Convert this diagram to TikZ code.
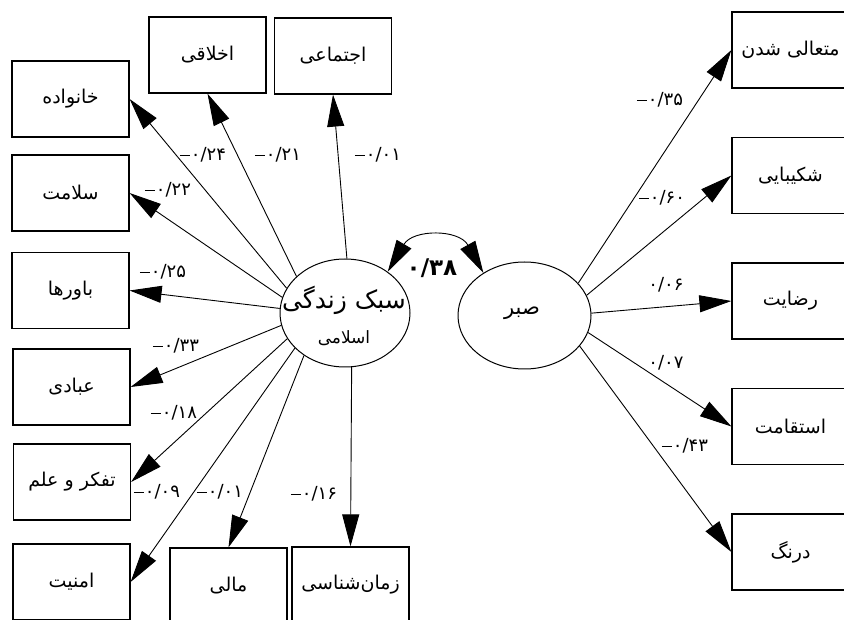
\documentclass[tikz,border=0pt]{standalone}
\usepackage{fontspec}
\usetikzlibrary{arrows.meta,shapes.geometric}
\TeXXeTstate=1
\newfontfamily\fa[Script=Arabic]{DejaVu Sans}
\newcommand\mns{\rule[4.5pt]{10pt}{0.9pt}\hspace{1pt}}
\begin{document}
\begin{tikzpicture}[x=1pt,y=-1pt,
  box/.style={draw, line width=1.2pt, minimum width=117pt, minimum height=76pt, inner sep=0pt, font=\fa\fontsize{19}{22}\selectfont},
  latent/.style={draw, ellipse, line width=1pt, inner sep=0pt},
  arr/.style={line width=0.9pt, -{Triangle[length=32pt,width=17pt]}},
  coef/.style={font=\fa\fontsize{18}{20}\selectfont, inner sep=0pt}]
\useasboundingbox (0,0) rectangle (844,620);
% latent variables
\node[latent, minimum width=130pt, minimum height=108pt] (L) at (345,313) {};
\node[font=\fa\fontsize{25}{28}\selectfont, inner sep=0pt] (Lt1) at (344,300) {\beginR سبک زندگی\endR};
\node[font=\fa\fontsize{17}{20}\selectfont, inner sep=0pt] (Lt2) at (344,338) {\beginR اسلامی\endR};
\node[latent, minimum width=133pt, minimum height=107pt] (R) at (524.5,315.5) {};
\node[font=\fa\fontsize{21}{24}\selectfont, inner sep=0pt] (Rt) at (522,313) {\beginR صبر\endR};
% left indicators
\node[box] (b1) at (70.5,99) {\beginR خانواده\endR};
\node[box] (b2) at (207.5,55) {\beginR اخلاقی\endR};
\node[box] (b3) at (333,56) {\beginR اجتماعی\endR};
\node[box] (b4) at (70.5,193) {\beginR سلامت\endR};
\node[box] (b5) at (70.5,290.5) {\beginR باورها\endR};
\node[box] (b6) at (71.5,387) {\beginR عبادی\endR};
\node[box] (b7) at (72,482) {\beginR تفکر و علم\endR};
\node[box] (b8) at (71.5,582) {\beginR امنیت\endR};
\node[box] (b9) at (228.5,586) {\beginR مالی\endR};
\node[box] (b10) at (350.5,585) {\beginR زمان‌شناسی\endR};
% right indicators
\node[box] (r1) at (790.5,50) {\beginR متعالی شدن\endR};
\node[box] (r2) at (790.5,175.5) {\beginR شکیبایی\endR};
\node[box] (r3) at (790.5,301) {\beginR رضایت\endR};
\node[box] (r4) at (790.5,426.5) {\beginR استقامت\endR};
\node[box] (r5) at (790.5,552) {\beginR درنگ\endR};
% paths from L
\draw[arr] (L.157) -- (b1.east);
\draw[arr] (L.143) -- (b2.south);
\draw[arr] (L.88) -- (b3.south);
\draw[arr] (L.166) -- (b4.east);
\draw[arr] (L.176) -- (b5.east);
\draw[arr] (L.191) -- (b6.east);
\draw[arr] (L.204) -- (b7.east);
\draw[arr] (L.215) -- (b8.east);
\draw[arr] (L.226) -- (b9.north);
\draw[arr] (L.277) -- (b10.north);
% paths from R
\draw[arr] (R.31) -- (r1.west);
\draw[arr] (R.18) -- (r2.west);
\draw[arr] (R.2) -- (r3.west);
\draw[arr] (R.345) -- (r4.west);
\draw[arr] (R.331) -- (r5.west);
% covariance
\draw[line width=0.9pt, {Triangle[length=32pt,width=17pt]}-{Triangle[length=32pt,width=17pt]}]
  (L.44) .. controls (413,229) and (459,229) .. (R.134);
\node[font=\fa\bfseries\fontsize{23}{26}\selectfont, inner sep=0pt] (c0) at (432,268) {۰/۳۸};
% coefficients
\node[coef] (c1) at (203,155) {\mns۰/۲۴};
\node[coef] (c2) at (278,155) {\mns۰/۲۱};
\node[coef] (c3) at (378,155) {\mns۰/۰۱};
\node[coef] (c4) at (168,190) {\mns۰/۲۲};
\node[coef] (c5) at (163,272) {\mns۰/۲۵};
\node[coef] (c6) at (176,346) {\mns۰/۳۳};
\node[coef] (c7) at (174,413) {\mns۰/۱۸};
\node[coef] (c8) at (157,492) {\mns۰/۰۹};
\node[coef] (c9) at (220,492) {\mns۰/۰۱};
\node[coef] (c10) at (314,494) {\mns۰/۱۶};
\node[coef] (c11) at (660,100) {\mns۰/۳۵};
\node[coef] (c12) at (662,198) {\mns۰/۶۰};
\node[coef] (c13) at (666,285) {۰/۰۶};
\node[coef] (c14) at (666,363) {۰/۰۷};
\node[coef] (c15) at (685,446) {\mns۰/۴۳};
\end{tikzpicture}
\end{document}
